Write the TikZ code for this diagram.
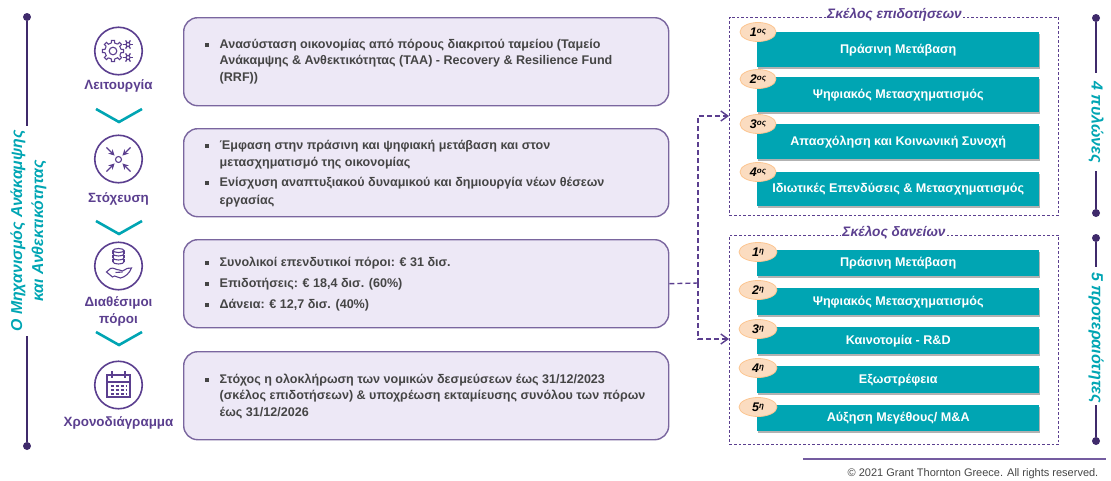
\documentclass[tikz,border=0pt]{standalone}
\usepackage{fontspec}
\setmainfont{Liberation Sans}
\usetikzlibrary{arrows.meta,shadows,positioning,shapes.geometric}
\definecolor{pur}{HTML}{5B3F8F}
\definecolor{darkpur}{HTML}{3F2A6B}
\definecolor{panelfill}{HTML}{EDE8F6}
\definecolor{panelline}{HTML}{7A669F}
\definecolor{teal}{HTML}{00A5B3}
\definecolor{txtgrey}{HTML}{454545}
\definecolor{peach}{HTML}{FBDCC0}
\tikzset{
 x=1pt,y=-1pt,
 panel/.style={draw=panelline,line width=1.4pt,fill=panelfill,rounded corners=14pt,anchor=north west,inner sep=0pt},
 bodytxt/.style={anchor=west,inner sep=0pt,text=txtgrey,font=\fontsize{12.55}{14}\selectfont\bfseries},
 bulletdot/.style={rectangle,fill=txtgrey,inner sep=0pt,minimum size=3.6pt},
 iconring/.style={circle,draw=pur,line width=1.6pt,minimum size=47.5pt,inner sep=0pt},
 iconline/.style={draw=pur,line width=1.1pt},
 steplabel/.style={text=pur,inner sep=0pt,font=\fontsize{13.4}{16}\selectfont\bfseries,align=center},
 chev/.style={draw=teal,line width=2.6pt},
 spine/.style={draw=darkpur,line width=2.8pt},
 endpt/.style={circle,fill=darkpur,inner sep=0pt,minimum size=8pt},
 sidetxt/.style={text=teal,inner sep=0pt,font=\fontsize{16}{21}\selectfont\bfseries\itshape,align=center},
 groupbox/.style={draw=pur,line width=1.2pt,dash pattern=on 2.6pt off 2pt,anchor=north west,inner sep=0pt},
 grouptitle/.style={text=pur,fill=white,inner sep=1.5pt,font=\fontsize{13.7}{15}\selectfont\bfseries\itshape},
 tealbox/.style={fill=teal,anchor=north west,inner sep=0pt,text=white,font=\fontsize{12.6}{14}\selectfont\bfseries,
   drop shadow={shadow xshift=1pt,shadow yshift=-2pt,fill=black,opacity=.3}},
 badge/.style={ellipse,fill=peach,draw=peach!75!orange,line width=.8pt,minimum width=36pt,minimum height=19pt,inner sep=0pt},
 badgetxt/.style={text=black,font=\fontsize{12.5}{13}\selectfont\bfseries\itshape},
 link/.style={draw=pur,line width=1.4pt,dash pattern=on 5pt off 3pt},
 barb/.style={-{Straight Barb[length=7pt,width=10pt,line width=1.4pt]}},
}
\newcommand{\bul}[2]{\node[bulletdot] at (207,#1) {};\node[bodytxt] at (219.5,#1) {#2};}
\newcommand{\tbox}[4]{\node[tealbox,minimum width=282pt,minimum height=#3pt] (#1) at (757,#2) {\raisebox{-1.5pt}{#4}};}
\begin{document}
\begin{tikzpicture}
\useasboundingbox (0,0) rectangle (1111,480);

% left spine
\node[endpt] (spineA) at (27,17) {};
\node[endpt] (spineB) at (27,446) {};
\coordinate (spineAend) at (27,126);
\coordinate (spineBend) at (27,336);
\draw[spine] (spineA) -- (spineAend);
\draw[spine] (spineB) -- (spineBend);
\node[sidetxt,rotate=90,font=\fontsize{15.8}{21}\selectfont\bfseries\itshape] (mainlabel) at (28.5,231) {Ο Μηχανισμός Ανάκαμψης\\και Ανθεκτικότητας};

% panels
\node[panel,minimum width=485pt,minimum height=88pt] (p1) at (183,17) {};
\node[panel,minimum width=485pt,minimum height=88pt] (p2) at (183,128) {};
\node[panel,minimum width=485pt,minimum height=88pt] (p3) at (183,239) {};
\node[panel,minimum width=485pt,minimum height=88pt] (p4) at (183,351) {};

\bul{45}{Ανασύσταση οικονομίας από πόρους διακριτού ταμείου (Ταμείο}
\node[bodytxt] at (219.5,61) {Ανάκαμψης \& Ανθεκτικότητας (ΤΑΑ) - Recovery \& Resilience Fund};
\node[bodytxt] at (219.5,78) {(RRF))};
\bul{146}{Έμφαση στην πράσινη και ψηφιακή μετάβαση και στον}
\node[bodytxt] at (219.5,163) {μετασχηματισμό της οικονομίας};
\bul{183}{Ενίσχυση αναπτυξιακού δυναμικού και δημιουργία νέων θέσεων}
\node[bodytxt] at (219.5,201) {εργασίας};
\bul{263}{Συνολικοί επενδυτικοί πόροι: € 31 δισ.}
\bul{284}{Επιδοτήσεις: € 18,4 δισ. (60\%)}
\bul{305}{Δάνεια: € 12,7 δισ. (40\%)}
\bul{380}{Στόχος η ολοκλήρωση των νομικών δεσμεύσεων έως 31/12/2023}
\node[bodytxt] at (219.5,396) {(σκέλος επιδοτήσεων) \& υποχρέωση εκταμίευσης συνόλου των πόρων};
\node[bodytxt] at (219.5,413) {έως 31/12/2026};

% icon rings and labels
\node[iconring] (i1) at (118.5,51) {};
\node[iconring] (i2) at (118.5,159) {};
\node[iconring] (i3) at (118.5,266) {};
\node[iconring] (i4) at (118.5,385) {};
\node[steplabel] (l1) at (118.5,85.5) {Λειτουργία};
\node[steplabel] (l2) at (118.5,198.5) {Στόχευση};
\node[steplabel] (l3) at (118.5,311.5) {Διαθέσιμοι\\[1.5pt]πόροι};
\node[steplabel] (l4) at (118.5,422.5) {Χρονοδιάγραμμα};

% gears icon
\begin{scope}[shift={(113,51)}]
 \foreach \a in {0,45,...,315}
  \draw[iconline] (\a-11:8.2)--(\a-8:10.8)--(\a+8:10.8)--(\a+11:8.2)--(\a+34:8.2);
 \draw[iconline] (0,0) circle (3.8);
\end{scope}
\foreach \cy in {44.5,57.5}{
 \begin{scope}[shift={(128,\cy)}]
  \foreach \a in {0,60,...,300} \draw[iconline,line width=1.3pt] (\a:1.5)--(\a:4.8);
  \draw[iconline] (0,0) circle (2);
 \end{scope}}

% arrows icon
\begin{scope}[shift={(118.5,159.5)}]
 \draw[iconline] (0,0) circle (3);
 \foreach \a in {45,135,225,315}{
  \draw[iconline,line width=1.2pt,-{Stealth[length=6pt,width=6pt]}] (\a:17) -- (\a:5.5);
 }
\end{scope}

% coins and hand icon
\begin{scope}[shift={(118.5,266)}]
 \foreach \yy in {-4,-8,-12}{
  \draw[iconline] (-5.5,\yy) -- (-5.5,\yy-3.5) (5.5,\yy) -- (5.5,\yy-3.5);
  \draw[iconline] (-5.5,\yy) arc[start angle=180,end angle=360,x radius=5.5,y radius=-2];
 }
 \draw[iconline] (0,-15.5) ellipse (5.5 and 2);
 \draw[iconline] (-12,6) -- (-8,2.5) .. controls (-5,1) and (-3,4) .. (1,4) -- (4,5)
   .. controls (8,3) and (10,1) .. (13,2) .. controls (11,7) and (7,11) .. (2,12) -- (-4,10) -- (-6,11) -- cycle;
 \draw[iconline] (-3,6.5) -- (4,6);
\end{scope}

% calendar icon
\begin{scope}[shift={(118.5,385)}]
 \draw[iconline,line width=1.3pt] (-11.5,-10) rectangle (11.5,12);
 \draw[iconline] (-11.5,-3) -- (11.5,-3);
 \draw[iconline,line width=1.3pt] (-6.5,-14) -- (-6.5,-7) (6.5,-14) -- (6.5,-7);
 \foreach \yy in {1,5,9}
  \draw[iconline,line width=1.2pt,dash pattern=on 3pt off 2pt] (-8,\yy) -- (8.5,\yy);
\end{scope}

% chevrons between the steps
\coordinate (c1a) at (96,109); \coordinate (c1b) at (119,122); \coordinate (c1c) at (142,109);
\coordinate (c2a) at (96,221); \coordinate (c2b) at (119,234); \coordinate (c2c) at (142,221);
\coordinate (c3a) at (96,332); \coordinate (c3b) at (119,345); \coordinate (c3c) at (142,332);
\draw[chev] (c1a) -- (c1b) -- (c1c);
\draw[chev] (c2a) -- (c2b) -- (c2c);
\draw[chev] (c3a) -- (c3b) -- (c3c);

% group boxes
\node[groupbox,minimum width=329pt,minimum height=198pt] (g1) at (729,16.5) {};
\node[groupbox,minimum width=329pt,minimum height=209.5pt] (g2) at (729,234.5) {};
\node[grouptitle] (t1) at (894.5,15) {Σκέλος επιδοτήσεων};
\node[grouptitle] (t2) at (894,233) {Σκέλος δανείων};

% dashed connector
\coordinate (junction) at (698,283);
\coordinate (upper) at (698,116);
\coordinate (lower) at (698,339);
\coordinate (g1in) at (729,116);
\coordinate (g2in) at (729,339);
\draw[link] (p3.east) -- (junction);
\draw[link,barb] (junction) -- (upper) -- (g1in);
\draw[link,barb] (junction) -- (lower) -- (g2in);

% teal boxes
\tbox{a1}{32}{35}{Πράσινη Μετάβαση}
\tbox{a2}{77}{35}{Ψηφιακός Μετασχηματισμός}
\tbox{a3}{124}{35}{Απασχόληση και Κοινωνική Συνοχή}
\tbox{a4}{172}{34}{Ιδιωτικές Επενδύσεις \& Μετασχηματισμός}
\tbox{b1}{250}{26}{Πράσινη Μετάβαση}
\tbox{b2}{288}{27}{Ψηφιακός Μετασχηματισμός}
\tbox{b3}{327}{27}{Καινοτομία - R\&D}
\tbox{b4}{366}{27}{Εξωστρέφεια}
\tbox{b5}{405}{26}{Αύξηση Μεγέθους/ M\&A}

% badges
\foreach \n/\yy in {1/32,2/79,3/124,4/172}{
 \node[badge] (ba\n) at (758,\yy) {};
 \node[badgetxt] at (758,\yy) {\n\raisebox{2.5pt}{\fontsize{8}{8}\selectfont ος}};
}
\foreach \n/\yy in {1/252,2/290,3/329,4/368,5/407}{
 \node[badge,minimum width=38pt] (bb\n) at (758,\yy) {};
 \node[badgetxt] at (758,\yy) {\n\raisebox{2.5pt}{\fontsize{8}{8}\selectfont η}};
}

% right spines
\node[endpt] (r1a) at (1096,18) {};
\node[endpt] (r1b) at (1096,213) {};
\node[endpt] (r2a) at (1096,238) {};
\node[endpt] (r2b) at (1096,441) {};
\node[sidetxt,rotate=-90] (r1t) at (1096,122) {4 πυλώνες};
\node[sidetxt,rotate=-90] (r2t) at (1096,337.5) {5 προτεραιότητες};
\coordinate (r1c) at (1096,73); \coordinate (r1d) at (1096,171);
\coordinate (r2c) at (1096,267); \coordinate (r2d) at (1096,405);
\draw[spine] (r1a) -- (r1c);
\draw[spine] (r1b) -- (r1d);
\draw[spine] (r2a) -- (r2c);
\draw[spine] (r2b) -- (r2d);

% footer
\coordinate (f1) at (803,459); \coordinate (f2) at (1106,459);
\draw[draw=pur!85,line width=1.8pt] (f1) -- (f2);
\node[inner sep=0pt,text=txtgrey,font=\fontsize{11}{13}\selectfont] (foot) at (973,474) {© 2021 Grant Thornton Greece. All rights reserved.};
\end{tikzpicture}
\end{document}
